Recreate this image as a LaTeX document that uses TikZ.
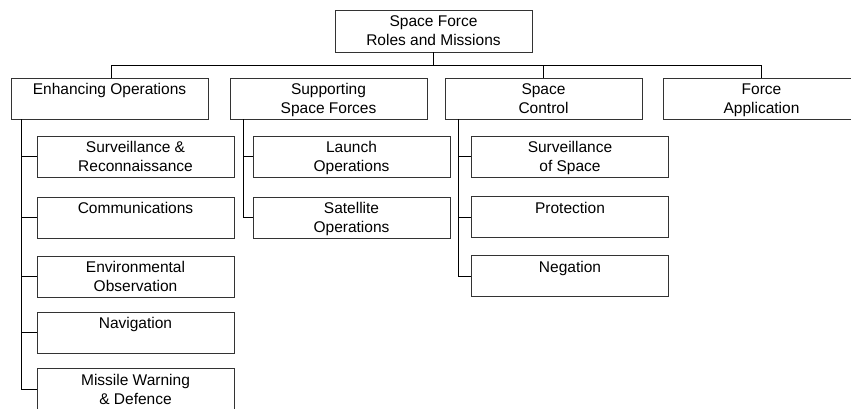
\documentclass[tikz,border=0pt]{standalone}
\usepackage{fontspec}
\setmainfont{Liberation Sans}
\newcommand{\bxt}[2][41pt]{\parbox[c][#1][t]{197pt}{\centering\vspace*{3.2pt}\strut #2}}
\begin{document}
\begin{tikzpicture}[x=1pt,y=-1pt,
  box/.style={draw=black!80, line width=0.8pt, inner sep=0pt, font=\fontsize{15.5}{19}\selectfont},
  conn/.style={draw=black, line width=0.8pt}]
\useasboundingbox (0,0) rectangle (851,409);
\clip (0,0) rectangle (851,409);
\fill[white] (0,0) rectangle (851,409);
% root
\node[box] (root) at (433.5,31) {\bxt[42pt]{Space Force\\Roles and Missions}};
% level 1
\node[box] (enh) at (109.5,98.5) {\bxt{Enhancing Operations\\\mbox{}}};
\node[box] (sup) at (328.5,98.5) {\bxt{Supporting\\Space Forces}};
\node[box] (ctl) at (543.5,98.5) {\bxt{Space\\Control}};
\node[box] (fa)  at (761.5,98.5) {\bxt{Force\\Application}};
% enhancing children
\node[box] (sr)  at (135.5,156.5) {\bxt{Surveillance \&\\Reconnaissance}};
\node[box] (com) at (135.5,217.5) {\bxt{Communications\\\mbox{}}};
\node[box] (env) at (135.5,276.5) {\bxt{Environmental\\Observation}};
\node[box] (nav) at (135.5,332.5) {\bxt{Navigation\\\mbox{}}};
\node[box] (mw)  at (135.5,389)   {\bxt{Missile Warning\\\& Defence}};
% supporting children
\node[box] (lo) at (351.5,156.5) {\bxt{Launch\\Operations}};
\node[box] (so) at (351.5,217.5) {\bxt{Satellite\\Operations}};
% control children
\node[box] (sos)  at (570,156.5) {\bxt{Surveillance\\of Space}};
\node[box] (prot) at (570,217)   {\bxt{Protection\\\mbox{}}};
\node[box] (neg)  at (570,276)   {\bxt{Negation\\\mbox{}}};
% bus
\coordinate (bus) at (0,65);
\draw[conn] (root.south) -- (root.south |- bus);
\draw[conn] ([xshift=1.5pt]enh.north) |- (fa.north |- bus) -- (fa.north);
\draw[conn] (ctl.north) -- (ctl.north |- bus);
% spines
\coordinate (es) at ([xshift=11pt]enh.south west);
\coordinate (ss) at ([xshift=14pt]sup.south west);
\coordinate (cs) at ([xshift=14pt]ctl.south west);
\draw[conn] (es) |- (mw.west);
\foreach \n in {sr,com,env,nav} \draw[conn] (es |- \n.west) -- (\n.west);
\draw[conn] (ss) |- (so.west);
\draw[conn] (ss |- lo.west) -- (lo.west);
\draw[conn] (cs) |- (neg.west);
\foreach \n in {sos,prot} \draw[conn] (cs |- \n.west) -- (\n.west);
\end{tikzpicture}
\end{document}
